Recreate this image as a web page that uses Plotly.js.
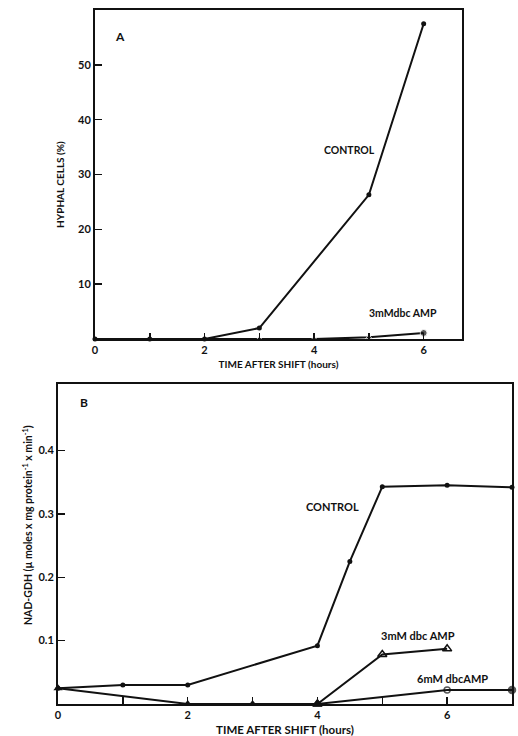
<!DOCTYPE html>
<html>
<head>
<meta charset="utf-8">
<script src="https://cdn.plot.ly/plotly-3.0.1.min.js"></script>
<style>html,body{margin:0;padding:0;background:#fff;}#chart{width:518px;height:736px;}</style>
</head>
<body>
<div id="chart"></div>
<script>
// Panel A: hyphal cells (%)
const hoursA = [0, 1, 2, 3, 5, 6];
const controlA = [0, 0, 0, 2.0, 26.3, 57.5];
const hoursDbcA = [0, 1, 2, 3, 4, 5, 6];
const dbc3mmA = [0, 0, 0, 0, 0, 0.3, 1.1];

// Panel B: NAD-GDH activity
const hoursCtrlB = [0, 1, 2, 4, 4.5, 5, 6, 7];
const controlB = [0.025, 0.030, 0.030, 0.092, 0.225, 0.343, 0.345, 0.342];
const hoursEarlyB = [0, 2, 3, 4];
const dbcEarlyB = [0.025, 0.0, 0.0, 0.0];
const hours3mmB = [4, 5, 6];
const dbc3mmB = [0.0, 0.078, 0.087];
const hours6mmB = [4, 6, 7];
const dbc6mmB = [0.0, 0.022, 0.022];

const tickValsA = [0, 2, 4, 6];
const tickValsB = [0, 2, 4, 6];
const yTicksA = [10, 20, 30, 40, 50];
const yTicksB = [0.1, 0.2, 0.3, 0.4];

const FONT = 'Lato, "Liberation Sans", sans-serif';
const line = {color: '#111', width: 2};
const tf = (s) => ({family: FONT, size: s, weight: 'bold', color: '#111'});

const traces = [
  {x: hoursDbcA, y: dbc3mmA, xaxis: 'x', yaxis: 'y', mode: 'lines+markers',
   line: line, marker: {symbol: ['triangle-up','triangle-up','triangle-up','triangle-up','triangle-up','triangle-up','circle'], size: [6,6,6,6,6,6,7], color: '#111'}, cliponaxis: false},
  {x: hoursA, y: controlA, xaxis: 'x', yaxis: 'y', mode: 'lines+markers',
   line: line, marker: {symbol: 'circle', size: 5, color: '#111'}, cliponaxis: false},
  {x: hoursCtrlB, y: controlB, xaxis: 'x2', yaxis: 'y2', mode: 'lines+markers',
   line: line, marker: {symbol: 'circle', size: 5, color: '#111'}, cliponaxis: false},
  {x: hoursEarlyB, y: dbcEarlyB, xaxis: 'x2', yaxis: 'y2', mode: 'lines+markers',
   line: line, marker: {symbol: 'triangle-up', size: 8, color: '#111'}, cliponaxis: false},
  {x: hours3mmB, y: dbc3mmB, xaxis: 'x2', yaxis: 'y2', mode: 'lines+markers',
   line: line, marker: {symbol: ['triangle-up', 'triangle-up-open', 'triangle-up-open'], size: 8, color: '#111', line: {width: 1.5, color: '#111'}}, cliponaxis: false},
  {x: hours6mmB, y: dbc6mmB, xaxis: 'x2', yaxis: 'y2', mode: 'lines+markers',
   line: line, marker: {symbol: ['triangle-up', 'circle-open', 'circle'], size: [8, 6, 7], color: '#111', line: {width: 1.5, color: '#111'}}, cliponaxis: false}
];

const axisCommon = {
  showgrid: false, zeroline: false, showline: true, linecolor: '#111', linewidth: 2,
  mirror: true, ticks: 'inside', tickcolor: '#111', tickwidth: 1.5,
  tickfont: tf(11)
};

const layout = {
  width: 518, height: 736,
  margin: {l: 0, r: 0, t: 0, b: 0},
  paper_bgcolor: '#fff', plot_bgcolor: '#fff',
  showlegend: false,
  font: {family: FONT, color: '#111'},
  xaxis: Object.assign({}, axisCommon, {
    domain: [0.1834, 0.8919], range: [0, 6.7], anchor: 'y',
    tickmode: 'array', tickvals: tickValsA, ticklen: 6,
    minor: {dtick: 1, tick0: 0, ticks: 'inside', ticklen: 6, tickwidth: 1.5, tickcolor: '#111'},
    title: {text: 'TIME AFTER SHIFT (hours)', font: tf(10), standoff: 6}
  }),
  yaxis: Object.assign({}, axisCommon, {
    domain: [0.5394, 0.9864], range: [0, 60], anchor: 'x',
    tickmode: 'array', tickvals: yTicksA, ticklen: 7
  }),
  xaxis2: Object.assign({}, axisCommon, {
    domain: [0.1120, 0.9884], range: [0, 7], anchor: 'y2',
    tickmode: 'array', tickvals: tickValsB, ticklen: 7,
    minor: {dtick: 1, tick0: 0, ticks: 'inside', ticklen: 7, tickwidth: 1.5, tickcolor: '#111'},
    title: {text: 'TIME AFTER SHIFT (hours)', font: tf(11.5), standoff: 6}
  }),
  yaxis2: Object.assign({}, axisCommon, {
    domain: [0.0435, 0.4783], range: [0, 0.505], anchor: 'x2',
    tickmode: 'array', tickvals: yTicksB, ticklen: 7
  }),
  annotations: [
    {xref: 'paper', yref: 'paper', x: 60/518, y: (736-185)/736, xanchor: 'center', yanchor: 'middle', textangle: -90, text: 'HYPHAL CELLS (%)', showarrow: false, font: tf(10)},
    {xref: 'paper', yref: 'paper', x: 27/518, y: (736-525)/736, xanchor: 'center', yanchor: 'middle', textangle: -90, text: 'NAD-GDH (µ moles x mg protein<sup>-1</sup> x min<sup>-1</sup>)', showarrow: false, font: tf(10.5)},
    {xref: 'x', yref: 'y', x: 0.46, y: 55.1, text: 'A', showarrow: false, font: tf(12)},
    {xref: 'x', yref: 'y', x: 4.65, y: 34.5, text: 'CONTROL', showarrow: false, font: tf(10.5)},
    {xref: 'x', yref: 'y', x: 5.62, y: 4.7, text: '3mMdbc AMP', showarrow: false, font: tf(10.5)},
    {xref: 'x2', yref: 'y2', x: 0.4, y: 0.475, text: 'B', showarrow: false, font: tf(12)},
    {xref: 'x2', yref: 'y2', x: 4.23, y: 0.311, text: 'CONTROL', showarrow: false, font: tf(11)},
    {xref: 'x2', yref: 'y2', x: 5.55, y: 0.108, text: '3mM dbc AMP', showarrow: false, font: tf(11)},
    {xref: 'x2', yref: 'y2', x: 6.08, y: 0.041, text: '6mM dbcAMP', showarrow: false, font: tf(11)}
  ]
};

Plotly.newPlot('chart', traces, layout, {staticPlot: true, displayModeBar: false});
</script>
</body>
</html>
